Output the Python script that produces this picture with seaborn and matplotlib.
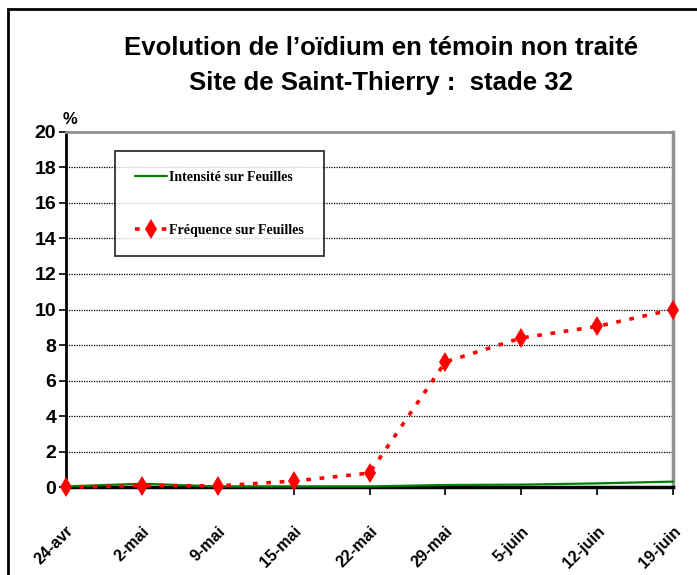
import pandas as pd
import matplotlib.pyplot as plt
import seaborn as sns
from matplotlib.patches import Rectangle

# data
dates = ['24-avr', '2-mai', '9-mai', '15-mai', '22-mai', '29-mai', '5-juin', '12-juin', '19-juin']
intensite = [0.05, 0.2, 0.05, 0.05, 0.05, 0.13, 0.15, 0.22, 0.32]
frequence = [0.0, 0.1, 0.08, 0.35, 0.8, 7.05, 8.4, 9.05, 10.0]
y_ticks = [0, 2, 4, 6, 8, 10, 12, 14, 16, 18, 20]

sns.set_style('white')
plt.rcParams['font.family'] = ['Liberation Sans', 'DejaVu Sans']
plt.rcParams['text.color'] = 'black'
plt.rcParams['xtick.color'] = 'black'
plt.rcParams['ytick.color'] = 'black'

df = pd.DataFrame({'date': dates, 'Intensité sur Feuilles': intensite,
                   'Fréquence sur Feuilles': frequence})
df['pos'] = range(len(dates))

fig = plt.figure(figsize=(6.97, 5.75), dpi=100)
ax = fig.add_axes([66 / 697, 1 - 487.3 / 575, (673 - 66) / 697, (487.3 - 131.7) / 575])

sns.lineplot(data=df, x='pos', y='Intensité sur Feuilles', color='#008000', lw=1.6,
             ax=ax, label='Intensité sur Feuilles', clip_on=False, zorder=3)
sns.lineplot(data=df, x='pos', y='Fréquence sur Feuilles', color='#ff0000', lw=2.6,
             linestyle=(0, (1.3, 2.4)), marker='d', markersize=10, markeredgewidth=0,
             ax=ax, label='Fréquence sur Feuilles', clip_on=False, zorder=4)

ax.set_xlim(0, len(dates) - 1)
ax.set_ylim(0, 20)
ax.set_yticks(y_ticks)
ax.set_xticks(df['pos'])
ax.set_xticklabels(dates, rotation=45, ha='right', rotation_mode='anchor',
                   fontsize=11.5, fontweight='bold')
ax.set_yticklabels([str(v) for v in y_ticks], fontsize=14, fontweight='bold')
ax.set_xlabel('')
ax.set_ylabel('')
ax.tick_params(axis='y', direction='out', length=5, width=1.2, pad=2, left=True)
ax.tick_params(axis='x', direction='out', length=6, width=1.2, pad=20, bottom=True)

for v in y_ticks[1:-1]:
    ax.axhline(v, color='black', lw=0.9, ls=(0, (1, 1)), zorder=1)

ax.spines['left'].set_color('black')
ax.spines['left'].set_linewidth(2)
ax.spines['bottom'].set_color('black')
ax.spines['bottom'].set_linewidth(2.5)
ax.spines['top'].set_color('#909090')
ax.spines['top'].set_linewidth(2)
ax.spines['right'].set_color('#909090')
ax.spines['right'].set_linewidth(2.5)

leg = ax.legend(loc='upper left', bbox_to_anchor=(0.081, 0.945), frameon=True,
                fancybox=False, edgecolor='black', handlelength=2.3, handletextpad=0.2,
                labelspacing=2.9, borderpad=1.4, borderaxespad=0,
                prop={'family': 'Liberation Serif', 'weight': 'bold', 'size': 10})
leg.get_frame().set_linewidth(1.3)

fig.text(70 / 697, 1 - 120 / 575, '%', ha='center', va='center', fontsize=12, fontweight='bold')
fig.text(381 / 697, 1 - 55 / 575, "Evolution de l’oïdium en témoin non traité",
         ha='center', va='baseline', fontsize=18.5, fontweight='bold')
fig.text(381 / 697, 1 - 90 / 575, 'Site de Saint-Thierry :  stade 32',
         ha='center', va='baseline', fontsize=18.5, fontweight='bold')

# outer chart frame (runs off the right and bottom edges)
fig.add_artist(Rectangle((8 / 697, -0.05), 1.0, 1.05 - 9 / 575, transform=fig.transFigure,
                         fill=False, edgecolor='black', lw=2))

fig.savefig('out.png', dpi=100)
